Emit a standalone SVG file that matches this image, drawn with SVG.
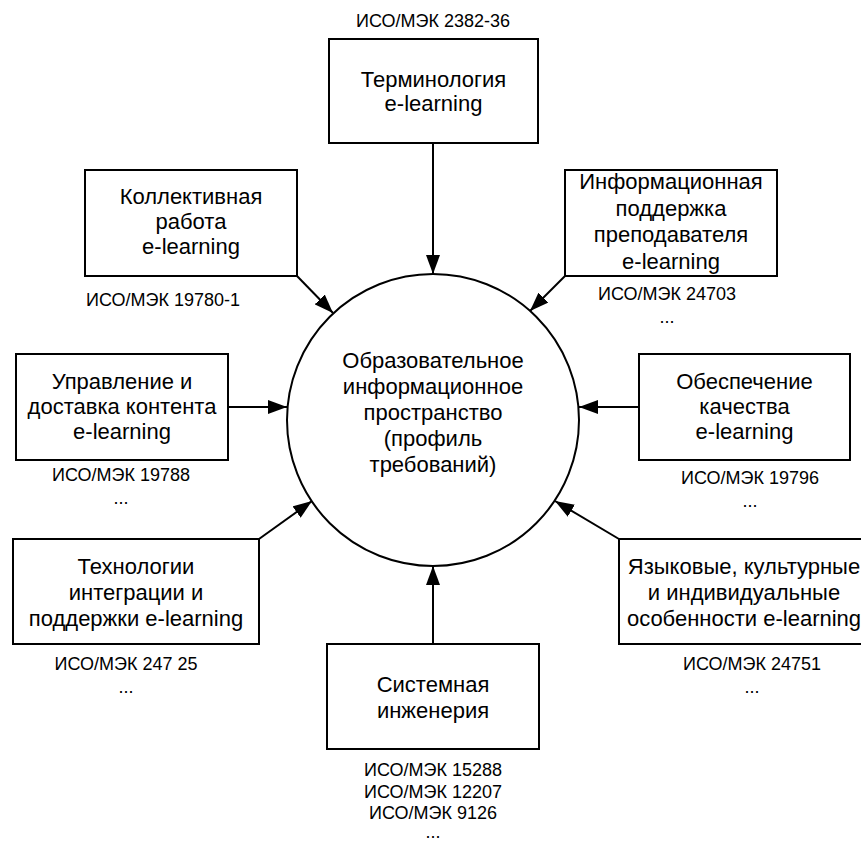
<svg xmlns="http://www.w3.org/2000/svg" width="861" height="843" viewBox="0 0 861 843">
<style>
.box{fill:#fff;stroke:#000;stroke-width:2}
.t{font-family:"Liberation Sans",Arial,sans-serif;font-size:22px;fill:#000;text-anchor:middle}
.l{font-family:"Liberation Sans",Arial,sans-serif;font-size:18px;fill:#000;text-anchor:middle}
.c{fill:none;stroke:#000;stroke-width:2;marker-end:url(#ah)}
</style>
<defs>
<marker id="ah" markerUnits="userSpaceOnUse" markerWidth="20" markerHeight="14" refX="19" refY="7" orient="auto">
<path d="M0,0 L19,7 L0,14 Z" fill="#000"/>
</marker>
</defs>
<rect width="861" height="843" fill="#fff"/>
<g id="connectors">
<line class="c" x1="433" y1="143" x2="433" y2="274"/>
<line class="c" x1="297" y1="276" x2="333" y2="313"/>
<line class="c" x1="565" y1="276" x2="530" y2="311"/>
<line class="c" x1="228" y1="407" x2="287" y2="407"/>
<line class="c" x1="639" y1="407" x2="579" y2="407"/>
<line class="c" x1="259" y1="539" x2="312" y2="501"/>
<line class="c" x1="619" y1="539" x2="555" y2="501"/>
<line class="c" x1="433" y1="644" x2="433" y2="566"/>
</g>
<g id="center">
<circle cx="433" cy="420" r="146" fill="#fff" stroke="#000" stroke-width="2"/>
<text class="t" x="433" y="368">Образовательное</text>
<text class="t" x="433" y="394">информационное</text>
<text class="t" x="433" y="420">пространство</text>
<text class="t" x="433" y="446">(профиль</text>
<text class="t" x="433" y="472">требований)</text>
</g>
<g id="terminology">
<text class="l" x="433" y="27">ИСО/МЭК 2382-36</text>
<rect class="box" x="329" y="39" width="209" height="104"/>
<text class="t" x="433.5" y="87">Терминология</text>
<text class="t" x="433.5" y="111">e-learning</text>
</g>
<g id="collective">
<rect class="box" x="85" y="170" width="212" height="106"/>
<text class="t" x="191" y="204">Коллективная</text>
<text class="t" x="191" y="229">работа</text>
<text class="t" x="191" y="254">e-learning</text>
<text class="l" x="163" y="306">ИСО/МЭК 19780-1</text>
</g>
<g id="teacher">
<rect class="box" x="565" y="170" width="212" height="106"/>
<text class="t" x="671" y="189">Информационная</text>
<text class="t" x="671" y="215.5">поддержка</text>
<text class="t" x="671" y="242">преподавателя</text>
<text class="t" x="671" y="268.5">e-learning</text>
<text class="l" x="667" y="300">ИСО/МЭК 24703</text>
<text class="l" x="667" y="323">...</text>
</g>
<g id="content">
<rect class="box" x="16" y="354" width="212" height="106"/>
<text class="t" x="122" y="389">Управление и</text>
<text class="t" x="122" y="414">доставка контента</text>
<text class="t" x="122" y="439">e-learning</text>
<text class="l" x="121" y="481">ИСО/МЭК 19788</text>
<text class="l" x="121" y="504">...</text>
</g>
<g id="quality">
<rect class="box" x="639" y="354" width="211" height="106"/>
<text class="t" x="744.5" y="389">Обеспечение</text>
<text class="t" x="744.5" y="414">качества</text>
<text class="t" x="744.5" y="439">e-learning</text>
<text class="l" x="750" y="484">ИСО/МЭК 19796</text>
<text class="l" x="750" y="507">...</text>
</g>
<g id="integration">
<rect class="box" x="13" y="539" width="246" height="105"/>
<text class="t" x="136" y="574">Технологии</text>
<text class="t" x="136" y="600">интеграции и</text>
<text class="t" x="136" y="626">поддержки e-learning</text>
<text class="l" x="126" y="670">ИСО/МЭК 247 25</text>
<text class="l" x="126" y="693">...</text>
</g>
<g id="language">
<rect class="box" x="619" y="539" width="250" height="105"/>
<text class="t" x="744" y="574">Языковые, культурные</text>
<text class="t" x="744" y="600">и индивидуальные</text>
<text class="t" x="744" y="626">особенности e-learning</text>
<text class="l" x="752" y="670">ИСО/МЭК 24751</text>
<text class="l" x="752" y="693">...</text>
</g>
<g id="systems">
<rect class="box" x="327" y="644" width="212" height="105"/>
<text class="t" x="433" y="692">Системная</text>
<text class="t" x="433" y="718">инженерия</text>
<text class="l" x="433" y="776">ИСО/МЭК 15288</text>
<text class="l" x="433" y="798">ИСО/МЭК 12207</text>
<text class="l" x="433" y="819">ИСО/МЭК 9126</text>
<text class="l" x="433" y="838">...</text>
</g>
</svg>
